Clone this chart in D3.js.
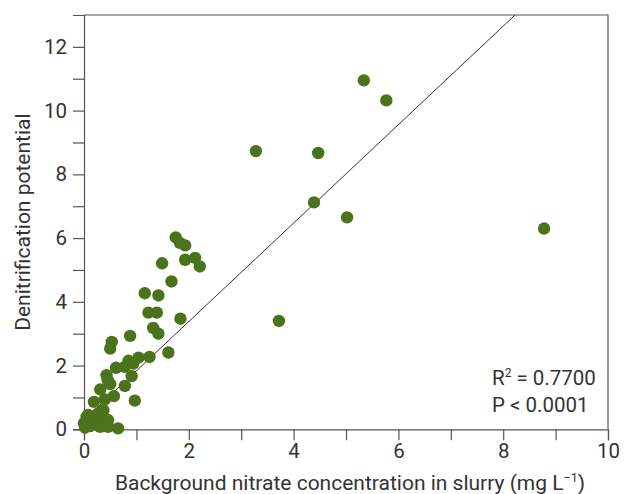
<!DOCTYPE html>
<html><head><meta charset="utf-8">
<script src="https://cdn.jsdelivr.net/npm/d3@7"></script>
<style>body{margin:0;background:#fff}svg{display:block}text{font-family:Roboto,"DejaVu Sans",sans-serif;fill:#333}</style>
</head><body><svg id="c" width="627" height="494"></svg>
<script>
const nitrate = [3.28,4.47,4.39,5.02,3.72,5.34,5.77,8.78,
 1.75,1.83,1.93,1.49,1.93,2.12,2.21,1.67,1.16,1.42,1.23,1.39,1.84,1.32,1.42,0.88,0.53,0.50,1.61,1.25,1.04,0.85,0.94,0.78,0.61,0.91,0.43,0.50,0.45,0.78,0.31,0.97,0.57,0.40,0.19,0.37,0.33,0.05,0.00,0.08,0.18,0.31,0.46,0.65,0.27,0.34,0.46,0.02,0.12,0.22];
const denitrification = [8.73,8.67,7.12,6.65,3.40,10.95,10.32,6.30,
 6.02,5.85,5.77,5.21,5.32,5.38,5.11,4.64,4.27,4.20,3.66,3.66,3.47,3.18,3.00,2.93,2.74,2.53,2.41,2.27,2.25,2.15,2.06,1.96,1.93,1.67,1.70,1.42,1.55,1.36,1.25,0.90,1.04,0.94,0.86,0.60,0.45,0.39,0.19,0.45,0.19,0.08,0.08,0.03,0.50,0.34,0.29,0.05,0.10,0.30];
const xTicks = [0,2,4,6,8,10];
const yTicks = [0,2,4,6,8,10,12];
const fitSlope = 1.545, fitIntercept = 0.29;
const statLines = ["R2 = 0.7700","P < 0.0001"];

const svg = d3.select("#c");
const m = {l:84, r:608, t:15, b:429.3};
const x = d3.scaleLinear().domain([0,10]).range([m.l,m.r]);
const y = d3.scaleLinear().domain([0,13]).range([m.b,m.t]);
const axCol = "#555";

svg.append("path").attr("d",`M${m.l},${m.t}H${m.r}V${m.b}`).attr("fill","none").attr("stroke",axCol).attr("stroke-width",1.2);

const gx = svg.append("g").attr("transform",`translate(0,${m.b})`)
  .call(d3.axisBottom(x).tickValues(d3.range(0,11,1)).tickSize(11).tickFormat(d=>xTicks.includes(d)?d:""));
const gy = svg.append("g").attr("transform",`translate(${m.l},0)`)
  .call(d3.axisLeft(y).tickValues(d3.range(0,13,1)).tickSize(11).tickFormat(d=>yTicks.includes(d)?d:""));
[gx,gy].forEach(g=>{
  g.select(".domain").attr("stroke",axCol).attr("stroke-width",1.2);
  g.selectAll(".tick line").attr("stroke",axCol).attr("stroke-width",1.2);
  g.selectAll(".tick text").attr("font-size",20.5).attr("fill","#333").style("font-family","Roboto");
});
gx.selectAll(".tick text").attr("dy","0.71em").attr("y",14);
gy.selectAll(".tick text").attr("x",-17);

svg.append("clipPath").attr("id","pc").append("rect").attr("x",m.l).attr("y",m.t).attr("width",m.r-m.l).attr("height",m.b-m.t);
const xEnd = (13-fitIntercept)/fitSlope;
svg.append("line").attr("clip-path","url(#pc)")
  .attr("x1",x(0)).attr("y1",y(fitIntercept)).attr("x2",x(xEnd)).attr("y2",y(13))
  .attr("stroke","#333").attr("stroke-width",1);

svg.append("g").selectAll("circle").data(nitrate.map((v,i)=>[v,denitrification[i]])).join("circle")
  .attr("cx",d=>x(d[0])).attr("cy",d=>y(d[1])).attr("r",6.2).attr("fill","#4b731b");

const st = svg.append("text").attr("x",492).attr("y",385).attr("font-size",20.5);
st.append("tspan").text("R");
st.append("tspan").text("2").attr("font-size",12).attr("dy",-8);
st.append("tspan").text(" = 0.7700").attr("dy",8);
svg.append("text").attr("x",492).attr("y",412).attr("font-size",20.5).text(statLines[1]);

const xt = svg.append("text").attr("x",(m.l+m.r)/2+4).attr("y",490).attr("text-anchor","middle").attr("font-size",21);
xt.append("tspan").text("Background nitrate concentration in slurry (mg L");
xt.append("tspan").text("−1").attr("font-size",12.5).attr("dy",-8);
xt.append("tspan").text(")").attr("dy",8);
svg.append("text").attr("transform",`translate(30,${(m.t+m.b)/2}) rotate(-90)`).attr("text-anchor","middle").attr("font-size",21).text("Denitrification potential");
</script></body></html>
